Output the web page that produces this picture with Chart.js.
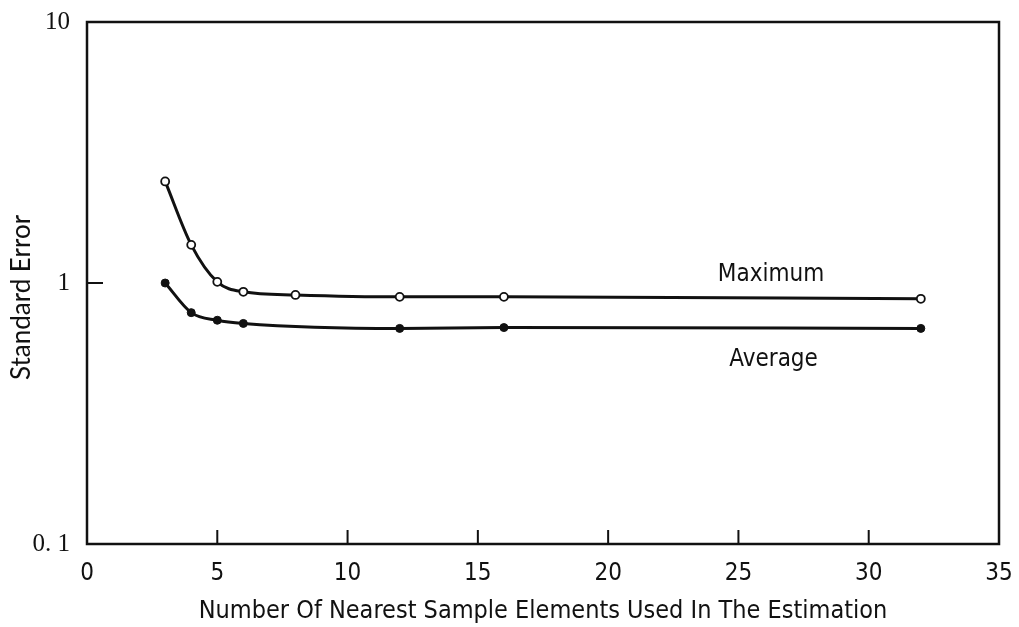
<!DOCTYPE html>
<html>
<head>
<meta charset="utf-8">
<script src="https://cdn.jsdelivr.net/npm/chart.js@4/dist/chart.umd.min.js"></script>
<style>
  html, body { margin: 0; padding: 0; background: #fff; }
  #wrap { width: 1019px; height: 627px; }
</style>
</head>
<body>
<div id="wrap"><canvas id="c" width="1019" height="627"></canvas></div>
<script>
// Number of nearest sample elements (x) and standard error (y)
const maxX = [3, 4, 5, 6, 8, 12, 16, 32];
const maxY = [2.45, 1.40, 1.01, 0.925, 0.90, 0.885, 0.885, 0.87];
const avgX = [3, 4, 5, 6, 12, 16, 32];
const avgY = [1.0, 0.77, 0.72, 0.70, 0.67, 0.675, 0.67];

const xTicks = [0, 5, 10, 15, 20, 25, 30, 35];
const yTicks = [0.1, 1, 10];
const yTickLabels = ['0. 1', '1', '10'];

const seriesNames = ['Maximum', 'Average'];
const yTitle = 'Standard Error';

const toPoints = (xs, ys) => xs.map((x, i) => ({ x, y: ys[i] }));

// Frame, inward tick marks, rotated y title and curve labels
const framePlugin = {
  id: 'frame',
  beforeDatasetsDraw(chart) {
    const { ctx, chartArea: a, scales } = chart;
    ctx.save();
    ctx.strokeStyle = '#111';
    ctx.lineWidth = 2.5;
    ctx.strokeRect(a.left, a.top, a.right - a.left, a.bottom - a.top);
    ctx.lineWidth = 2;
    ctx.beginPath();
    xTicks.slice(1, -1).forEach(v => {
      const px = scales.x.getPixelForValue(v);
      ctx.moveTo(px, a.bottom);
      ctx.lineTo(px, a.bottom - 14);
    });
    yTicks.slice(1, -1).forEach(v => {
      const py = scales.y.getPixelForValue(v);
      ctx.moveTo(a.left, py);
      ctx.lineTo(a.left + 16, py);
    });
    ctx.stroke();
    ctx.restore();
  },
  afterDatasetsDraw(chart, args, opts) {
    const { ctx, scales } = chart;
    ctx.save();
    ctx.fillStyle = '#111';
    ctx.font = '24px "DejaVu Sans Condensed"';
    ctx.textAlign = 'center';
    ctx.textBaseline = 'middle';
    opts.labels.forEach(l => {
      ctx.fillText(l.text, scales.x.getPixelForValue(l.x), scales.y.getPixelForValue(l.y));
    });
    // y axis title, set a little below the middle of the axis
    ctx.font = '26px Lato';
    ctx.translate(22, scales.y.getPixelForValue(0.88));
    ctx.rotate(-Math.PI / 2);
    ctx.fillText(yTitle, 0, 0);
    ctx.restore();
  }
};

new Chart(document.getElementById('c'), {
  type: 'line',
  data: {
    datasets: [
      {
        label: seriesNames[0],
        data: toPoints(maxX, maxY),
        borderColor: '#111',
        borderWidth: 3,
        pointRadius: 4,
        pointBorderWidth: 1.8,
        pointBackgroundColor: '#fff',
        pointBorderColor: '#111',
        cubicInterpolationMode: 'monotone',
        fill: false
      },
      {
        label: seriesNames[1],
        data: toPoints(avgX, avgY),
        borderColor: '#111',
        borderWidth: 3,
        pointRadius: 4,
        pointBorderWidth: 1,
        pointBackgroundColor: '#111',
        pointBorderColor: '#111',
        cubicInterpolationMode: 'monotone',
        fill: false
      }
    ]
  },
  options: {
    responsive: false,
    animation: false,
    layout: { padding: { top: 22, right: 20, left: 0, bottom: 0 } },
    plugins: {
      legend: { display: false },
      tooltip: { enabled: false },
      frame: {
        labels: [
          { text: seriesNames[0], x: 26.25, y: 1.08 },
          { text: seriesNames[1], x: 26.35, y: 0.51 }
        ]
      }
    },
    scales: {
      x: {
        type: 'linear',
        min: 0,
        max: 35,
        afterBuildTicks(scale) { scale.ticks = xTicks.map(v => ({ value: v })); },
        afterFit(scale) {
          scale.height = 83;
          scale.paddingLeft = 0;
          scale.paddingRight = 0;
        },
        grid: { display: false, drawTicks: false },
        border: { display: false },
        ticks: {
          autoSkip: false,
          maxRotation: 0,
          padding: 15,
          color: '#111',
          font: { family: '"DejaVu Sans Condensed"', size: 24 }
        },
        title: {
          display: true,
          text: 'Number Of Nearest Sample Elements Used In The Estimation',
          color: '#111',
          font: { family: '"DejaVu Sans Condensed"', size: 25 },
          padding: { top: 0, bottom: 1 }
        }
      },
      y: {
        type: 'logarithmic',
        min: 0.1,
        max: 10,
        afterBuildTicks(scale) { scale.ticks = yTicks.map(v => ({ value: v })); },
        afterFit(scale) {
          scale.width = 87;
          scale.paddingTop = 0;
          scale.paddingBottom = 0;
        },
        grid: { display: false, drawTicks: false },
        border: { display: false },
        ticks: {
          padding: 17,
          color: '#111',
          font: { family: '"Liberation Serif"', size: 25 },
          callback(value) {
            const i = yTicks.indexOf(value);
            return i >= 0 ? yTickLabels[i] : '';
          }
        },
        title: { display: false }
      }
    }
  },
  plugins: [framePlugin]
});
</script>
</body>
</html>
